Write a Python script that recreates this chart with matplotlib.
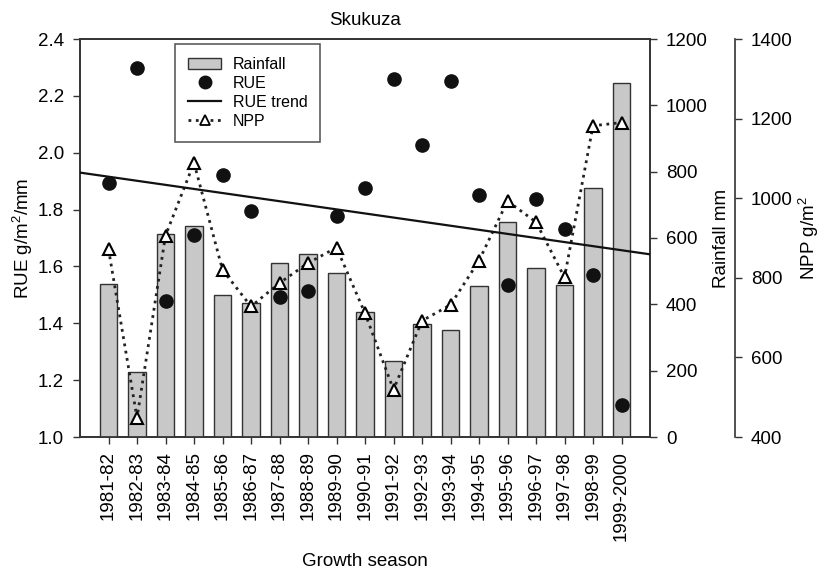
import matplotlib
matplotlib.use("Agg")
import matplotlib.pyplot as plt
import numpy as np
from matplotlib.lines import Line2D
from matplotlib.patches import Patch

plt.rcParams['font.family'] = ['Liberation Sans', 'DejaVu Sans']
plt.rcParams['mathtext.fontset'] = 'custom'
plt.rcParams['mathtext.rm'] = 'Liberation Sans'
plt.rcParams['mathtext.it'] = 'Liberation Sans'

seasons = ["1981-82", "1982-83", "1983-84", "1984-85", "1985-86", "1986-87",
           "1987-88", "1988-89", "1989-90", "1990-91", "1991-92", "1992-93",
           "1993-94", "1994-95", "1995-96", "1996-97", "1997-98", "1998-99",
           "1999-2000"]
rainfall = [462, 195, 613, 636, 427, 405, 526, 551, 494, 378, 229, 340,
            322, 454, 648, 510, 459, 752, 1068]
rue = [1.893, 2.297, 1.477, 1.712, 1.923, 1.796, 1.492, 1.512, 1.779, 1.876,
       2.258, 2.028, 2.254, 1.852, 1.536, 1.837, 1.733, 1.571, 1.114]
npp = [872, 448, 906, 1089, 820, 728, 787, 837, 876, 711, 519, 692, 732,
       843, 993, 940, 801, 1182, 1190]

x = np.arange(len(seasons))
edge = '#333333'
TICK_FS = 13.5
LABEL_FS = 13.5

fig = plt.figure(figsize=(8.22, 5.69), dpi=100)
ax = fig.add_axes([80 / 822, 1 - 437 / 569, 570 / 822, 398 / 569])
ax_rain = ax.twinx()
ax_npp = ax.twinx()

# rainfall bars on the inner right axis
ax_rain.bar(x, rainfall, width=0.63, color='#c8c8c8', edgecolor=edge,
            linewidth=1.0, zorder=1)
ax_rain.set_ylim(0, 1200)
ax_rain.set_yticks(range(0, 1201, 200))
ax_rain.set_ylabel("Rainfall mm", fontsize=LABEL_FS, labelpad=4)

# NPP on an offset outer axis
ax_npp.spines['right'].set_position(('axes', 1.149))
ax_npp.plot(x, npp, linestyle=':', color='#222222', linewidth=2.0,
            marker='^', markersize=8.5, markerfacecolor='white',
            markeredgecolor='black', markeredgewidth=1.5, zorder=3)
ax_npp.set_ylim(400, 1400)
ax_npp.set_yticks(range(400, 1401, 200))
ax_npp.set_ylabel("NPP g/m$^2$", fontsize=LABEL_FS, labelpad=3)
for s in ['top', 'left', 'bottom']:
    ax_npp.spines[s].set_visible(False)

# RUE points and linear trend (drawn in RUE data coordinates, on top)
coef = np.polyfit(x, rue, 1)
xt = np.array([-1, 19])
ax_npp.plot(x, rue, linestyle='none', marker='o', markersize=9.5,
            color='#111111', zorder=4, transform=ax.transData)
ax_npp.plot(xt, np.polyval(coef, xt), color='#111111', linewidth=1.6,
            zorder=4, transform=ax.transData)

ax.set_ylim(1.0, 2.4)
ticks = np.arange(1.0, 2.41, 0.2)
ax.set_yticks(ticks)
ax.set_yticklabels([f"{v:.1f}" for v in ticks])
ax.set_xlim(-1, 19)
ax.set_xticks(x)
ax.set_xticklabels(seasons, rotation=90)
ax.set_ylabel("RUE g/m$^2$/mm", fontsize=LABEL_FS, labelpad=2)
ax.set_xlabel("Growth season", fontsize=LABEL_FS, labelpad=9)
ax.set_title("Skukuza", fontsize=LABEL_FS, pad=10)

for a in (ax, ax_rain, ax_npp):
    a.tick_params(labelsize=TICK_FS, length=5, width=1.0, color=edge,
                  direction='out', pad=6.5)
    for s in a.spines.values():
        s.set_color(edge)
        s.set_linewidth(1.2)
ax.tick_params(axis='x', pad=5)

handles = [Patch(facecolor='#c8c8c8', edgecolor=edge, linewidth=1.0),
           Line2D([], [], linestyle='none', marker='o', markersize=9, color='#111111'),
           Line2D([], [], color='#111111', linewidth=1.6),
           Line2D([], [], linestyle=':', color='#222222', linewidth=2.0, marker='^',
                  markersize=7, markerfacecolor='white', markeredgecolor='black',
                  markeredgewidth=1.3)]
leg = ax_npp.legend(handles, ["Rainfall", "RUE", "RUE trend", "NPP"],
                    loc='upper left', bbox_to_anchor=(95 / 570, 1 - 5 / 398),
                    borderaxespad=0, fontsize=11.5, frameon=True, fancybox=False,
                    borderpad=0.8, labelspacing=0.25, handlelength=2.1,
                    handletextpad=0.7)
leg.get_frame().set_edgecolor(edge)
leg.get_frame().set_linewidth(1.2)

fig.savefig("out.png", dpi=100)
